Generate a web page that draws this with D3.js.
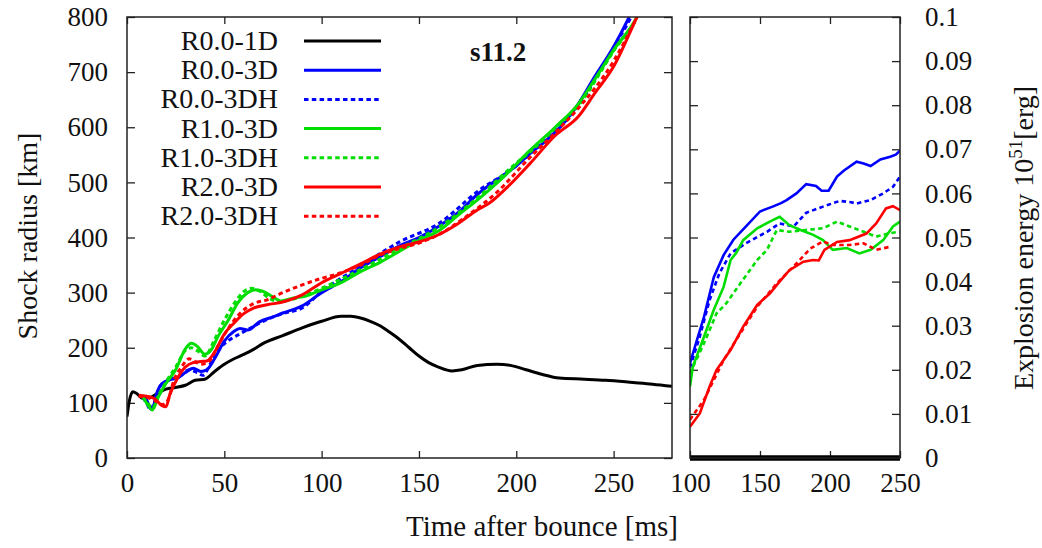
<!DOCTYPE html>
<html>
<head>
    <meta charset="utf-8">
    <title>s11.2 shock radius and explosion energy</title>
    <script src="https://d3js.org/d3.v7.min.js"></script>
    <style>
        body { margin: 0; background: #fff; }
        text { font-family: "Liberation Serif", "DejaVu Serif", serif; fill: #111; }
    </style>
</head>
<body>
    <div id="my_dataviz"></div>
    <script>
        // ---- data ----
        const seriesNames = ["R0.0-1D", "R0.0-3D", "R0.0-3DH", "R1.0-3D", "R1.0-3DH", "R2.0-3D", "R2.0-3DH"];
        const seriesColors = ["#000000", "#0000ff", "#0000ff", "#00dd00", "#00dd00", "#ff0000", "#ff0000"];
        const seriesDashed = [false, false, true, false, true, false, true];

        // shock radius [km] vs time after bounce [ms]
        const r1D_t = [0, 1, 3, 5, 8, 12, 16, 20, 25, 30, 35, 40, 45, 50, 55, 60, 65, 70, 80, 90, 100, 110, 115, 120, 125, 130, 135, 140, 145, 150, 155, 160, 167, 172, 180, 190, 197, 205, 213, 222, 235, 246, 260, 270, 280];
        const r1D_v = [75, 100, 120, 117, 108, 110, 118, 125, 128, 132, 141, 143, 157, 170, 180, 188, 197, 208, 222, 236, 248, 257, 257, 254, 248, 240, 228, 215, 200, 185, 173, 165, 158, 160, 168, 170, 168, 160, 152, 145, 143, 141, 137, 134, 130];

        const r00_t = [8, 10, 12, 13, 15, 18, 22, 26, 30, 34, 38, 41, 45, 50, 55, 58, 62, 68, 75, 80, 90, 100, 110, 120, 130, 140, 150, 160, 170, 180, 190, 200, 207, 215, 225, 232, 240, 250, 258, 262];
        const r00_v = [112, 106, 90, 88, 115, 135, 142, 145, 155, 163, 157, 160, 180, 212, 230, 235, 232, 247, 256, 263, 276, 300, 320, 345, 365, 385, 400, 420, 445, 478, 505, 530, 552, 575, 610, 643, 690, 746, 800, 830];

        const r00H_t = [8, 10, 12, 14, 17, 22, 27, 32, 36, 39, 43, 48, 53, 58, 63, 70, 80, 90, 100, 120, 140, 160, 181, 200, 207, 232, 250, 259, 263];
        const r00H_v = [110, 100, 88, 100, 130, 142, 148, 160, 155, 150, 172, 200, 215, 225, 235, 248, 262, 272, 302, 348, 392, 425, 486, 530, 552, 640, 745, 800, 830];

        const r10_t = [8, 10, 13, 16, 20, 25, 30, 33, 36, 40, 43, 47, 52, 57, 62, 66, 70, 75, 79, 85, 92, 100, 110, 120, 130, 140, 150, 161, 170, 181, 186, 195, 207, 220, 232, 240, 250, 262, 266];
        const r10_v = [112, 100, 87, 110, 135, 160, 198, 208, 203, 188, 195, 222, 250, 282, 300, 305, 302, 292, 285, 290, 294, 305, 318, 338, 355, 375, 395, 414, 440, 471, 486, 515, 558, 600, 643, 685, 740, 800, 830];

        const r10H_t = [8, 11, 13, 16, 20, 25, 30, 33, 36, 40, 45, 50, 55, 60, 64, 68, 73, 78, 85, 92, 100, 120, 140, 160, 180, 200, 207, 220, 232, 250, 262, 266];
        const r10H_v = [110, 98, 90, 112, 138, 165, 195, 200, 195, 185, 215, 250, 280, 302, 308, 303, 290, 283, 288, 296, 308, 342, 380, 418, 472, 535, 555, 598, 640, 738, 800, 830];

        const r20_t = [6, 10, 14, 18, 20, 22, 26, 30, 34, 38, 41, 45, 50, 55, 60, 65, 72, 80, 90, 100, 110, 120, 130, 140, 150, 160, 170, 180, 186, 195, 207, 220, 232, 240, 250, 262, 266];
        const r20_v = [114, 112, 108, 95, 93, 115, 145, 165, 173, 175, 176, 192, 225, 245, 262, 272, 278, 283, 296, 318, 335, 352, 370, 383, 392, 405, 425, 450, 462, 490, 534, 585, 620, 660, 710, 800, 830];

        const r20H_t = [6, 10, 14, 18, 21, 24, 28, 32, 35, 38, 42, 47, 52, 58, 65, 72, 80, 90, 100, 110, 120, 130, 140, 150, 160, 175, 190, 207, 220, 232, 250, 262, 266];
        const r20H_v = [112, 110, 105, 97, 105, 140, 165, 180, 175, 170, 175, 205, 235, 262, 280, 287, 300, 314, 326, 336, 350, 368, 380, 390, 405, 440, 482, 545, 590, 635, 720, 800, 830];

        // explosion energy [10^51 erg] vs time after bounce [ms]
        const e1D_t = [100, 250];
        const e1D_v = [0, 0];

        const e00_t = [100, 105, 110, 117, 124, 131, 140, 150, 159, 165, 169, 176, 183, 190, 194, 199, 205, 210, 219, 224, 229, 236, 243, 247, 250];
        const e00_v = [0.0215, 0.0268, 0.032, 0.041, 0.046, 0.0495, 0.0525, 0.0559, 0.057, 0.0578, 0.0585, 0.060, 0.0621, 0.0617, 0.0606, 0.0606, 0.0638, 0.0652, 0.0672, 0.0668, 0.0662, 0.0677, 0.0683, 0.0688, 0.0697];

        const e00H_t = [100, 107, 114, 121, 129, 140, 155, 164, 170, 174, 183, 195, 207, 215, 219, 229, 238, 245, 250];
        const e00H_v = [0.0205, 0.0275, 0.0358, 0.0419, 0.0464, 0.0487, 0.0513, 0.0532, 0.0528, 0.0525, 0.0556, 0.057, 0.0583, 0.058, 0.0577, 0.0585, 0.060, 0.0615, 0.0638];

        const e10_t = [100, 102, 110, 117, 124, 129, 133, 138, 148, 157, 164, 171, 179, 188, 195, 202, 212, 221, 229, 238, 245, 250];
        const e10_v = [0.0162, 0.0207, 0.0275, 0.0336, 0.0388, 0.0449, 0.0465, 0.0494, 0.0521, 0.0536, 0.0547, 0.0528, 0.0517, 0.0506, 0.0494, 0.0472, 0.0476, 0.0464, 0.0472, 0.0494, 0.0525, 0.0536];

        const e10H_t = [100, 110, 119, 126, 136, 148, 155, 162, 171, 183, 195, 205, 214, 224, 233, 243, 250];
        const e10H_v = [0.0192, 0.026, 0.0328, 0.0351, 0.0396, 0.0449, 0.0472, 0.0517, 0.0513, 0.0517, 0.0521, 0.0536, 0.0525, 0.0513, 0.0502, 0.051, 0.0513];

        const e20_t = [100, 107, 114, 119, 129, 138, 148, 157, 164, 171, 181, 188, 192, 196, 205, 214, 226, 233, 240, 245, 250];
        const e20_v = [0.0071, 0.0101, 0.0162, 0.020, 0.0245, 0.0298, 0.0347, 0.0373, 0.040, 0.0426, 0.0445, 0.0449, 0.0448, 0.0472, 0.049, 0.0494, 0.0509, 0.0532, 0.0566, 0.0571, 0.0562];

        const e20H_t = [100, 110, 124, 136, 148, 162, 176, 186, 195, 202, 214, 224, 233, 243];
        const e20H_v = [0.0087, 0.0132, 0.0222, 0.0283, 0.0343, 0.0396, 0.0441, 0.0475, 0.0491, 0.0483, 0.0483, 0.0487, 0.0472, 0.0479];

        const radiusT = [r1D_t, r00_t, r00H_t, r10_t, r10H_t, r20_t, r20H_t];
        const radiusV = [r1D_v, r00_v, r00H_v, r10_v, r10H_v, r20_v, r20H_v];
        const energyT = [e1D_t, e00_t, e00H_t, e10_t, e10H_t, e20_t, e20H_t];
        const energyV = [e1D_v, e00_v, e00H_v, e10_v, e10H_v, e20_v, e20H_v];

        const leftXTicks = [0, 50, 100, 150, 200, 250];
        const leftYTicks = [0, 100, 200, 300, 400, 500, 600, 700, 800];
        const rightXTicks = [100, 150, 200, 250];
        const rightYTicks = [0, 0.01, 0.02, 0.03, 0.04, 0.05, 0.06, 0.07, 0.08, 0.09, 0.1];

        // ---- layout ----
        const width = 1042, height = 548;
        const plotTop = 17, plotBottom = 458;
        const fontSize = 27;
        const dash = "4.5,3.3";

        const svg = d3.select("#my_dataviz")
          .append("svg")
            .attr("width", width)
            .attr("height", height);

        const xL = d3.scaleLinear().domain([0, 280]).range([127, 672]);
        const yL = d3.scaleLinear().domain([0, 800]).range([plotBottom, plotTop]);
        const xR = d3.scaleLinear().domain([100, 250]).range([690, 900]);
        const yR = d3.scaleLinear().domain([0, 0.1]).range([plotBottom, plotTop]);

        const defs = svg.append("defs");
        defs.append("clipPath").attr("id", "clipL")
          .append("rect").attr("x", 127).attr("y", plotTop).attr("width", 545).attr("height", plotBottom - plotTop);
        defs.append("clipPath").attr("id", "clipR")
          .append("rect").attr("x", 690).attr("y", plotTop - 5).attr("width", 210).attr("height", plotBottom - plotTop + 10);

        function drawAxis(axis, tx, ty) {
            const g = svg.append("g")
                .attr("transform", `translate(${tx},${ty})`)
                .call(axis);
            g.select(".domain").remove();
            g.selectAll(".tick line").attr("stroke", "#222").attr("stroke-width", 1.3);
            g.selectAll("text")
                .attr("font-size", fontSize)
                .attr("font-family", "Liberation Serif, serif")
                .attr("fill", "#111");
            return g;
        }

        const fmtE = d => d === 0 ? "0" : String(+d.toFixed(2));

        // left panel axes
        drawAxis(d3.axisBottom(xL).tickValues(leftXTicks).tickSizeInner(-7).tickSizeOuter(0).tickPadding(15), 0, plotBottom);
        drawAxis(d3.axisTop(xL).tickValues(leftXTicks).tickSizeInner(-7).tickSizeOuter(0).tickFormat(""), 0, plotTop);
        drawAxis(d3.axisLeft(yL).tickValues(leftYTicks).tickSizeInner(-8).tickSizeOuter(0).tickPadding(19), 127, 0);
        drawAxis(d3.axisRight(yL).tickValues(leftYTicks).tickSizeInner(-8).tickSizeOuter(0).tickFormat(""), 672, 0);

        // right panel axes
        drawAxis(d3.axisBottom(xR).tickValues(rightXTicks).tickSizeInner(-7).tickSizeOuter(0).tickPadding(15), 0, plotBottom);
        drawAxis(d3.axisTop(xR).tickValues(rightXTicks).tickSizeInner(-7).tickSizeOuter(0).tickFormat(""), 0, plotTop);
        drawAxis(d3.axisLeft(yR).tickValues(rightYTicks).tickSizeInner(-8).tickSizeOuter(0).tickFormat(""), 690, 0);
        drawAxis(d3.axisRight(yR).tickValues(rightYTicks).tickSizeInner(-8).tickSizeOuter(0).tickPadding(25).tickFormat(fmtE), 900, 0);

        // curves
        const lineL = d3.line().x(d => xL(d[0])).y(d => yL(d[1])).curve(d3.curveMonotoneX);
        const lineR = d3.line().x(d => xR(d[0])).y(d => yR(d[1]));

        const gL = svg.append("g").attr("clip-path", "url(#clipL)");
        const gR = svg.append("g").attr("clip-path", "url(#clipR)");

        seriesNames.forEach((name, i) => {
            gL.append("path")
              .datum(d3.zip(radiusT[i], radiusV[i]))
              .attr("fill", "none")
              .attr("stroke", seriesColors[i])
              .attr("stroke-width", 3)
              .attr("stroke-dasharray", seriesDashed[i] ? dash : null)
              .attr("d", lineL);

            gR.append("path")
              .datum(d3.zip(energyT[i], energyV[i]))
              .attr("fill", "none")
              .attr("stroke", seriesColors[i])
              .attr("stroke-width", i === 0 ? 5.5 : 2.6)
              .attr("stroke-dasharray", seriesDashed[i] ? dash : null)
              .attr("d", lineR);
        });

        // frames
        svg.append("rect")
            .attr("x", xL.range()[0]).attr("y", plotTop)
            .attr("width", xL.range()[1] - xL.range()[0]).attr("height", plotBottom - plotTop)
            .attr("fill", "none").attr("stroke", "#222").attr("stroke-width", 1.5);
        svg.append("rect")
            .attr("x", xR.range()[0]).attr("y", plotTop)
            .attr("width", xR.range()[1] - xR.range()[0]).attr("height", plotBottom - plotTop)
            .attr("fill", "none").attr("stroke", "#222").attr("stroke-width", 1.5);

        // legend
        const legend = svg.append("g");
        seriesNames.forEach((name, i) => {
            const y = 41 + i * 29.2;
            legend.append("text")
              .attr("x", 278).attr("y", y + 9)
              .attr("text-anchor", "end")
              .attr("font-size", 28)
              .text(name);
            legend.append("line")
              .attr("x1", 304).attr("x2", 381)
              .attr("y1", y).attr("y2", y)
              .attr("stroke", seriesColors[i])
              .attr("stroke-width", 3)
              .attr("stroke-dasharray", seriesDashed[i] ? dash : null);
        });

        // model label
        svg.append("text")
            .attr("x", 470).attr("y", 61)
            .attr("font-size", fontSize)
            .attr("font-weight", "bold")
            .text("s11.2");

        // axis titles
        svg.append("text")
            .attr("x", 542).attr("y", 536)
            .attr("text-anchor", "middle")
            .attr("font-size", 29)
            .text("Time after bounce [ms]");

        svg.append("text")
            .attr("transform", "translate(37,236) rotate(-90)")
            .attr("text-anchor", "middle")
            .attr("font-size", 28)
            .text("Shock radius [km]");

        const eLabel = svg.append("text")
            .attr("transform", "translate(1033,238) rotate(-90)")
            .attr("text-anchor", "middle")
            .attr("font-size", 28);
        eLabel.append("tspan").text("Explosion energy 10");
        eLabel.append("tspan").attr("font-size", 19).attr("dy", -11).text("51");
        eLabel.append("tspan").attr("dy", 11).text("[erg]");
    </script>
</body>
</html>
